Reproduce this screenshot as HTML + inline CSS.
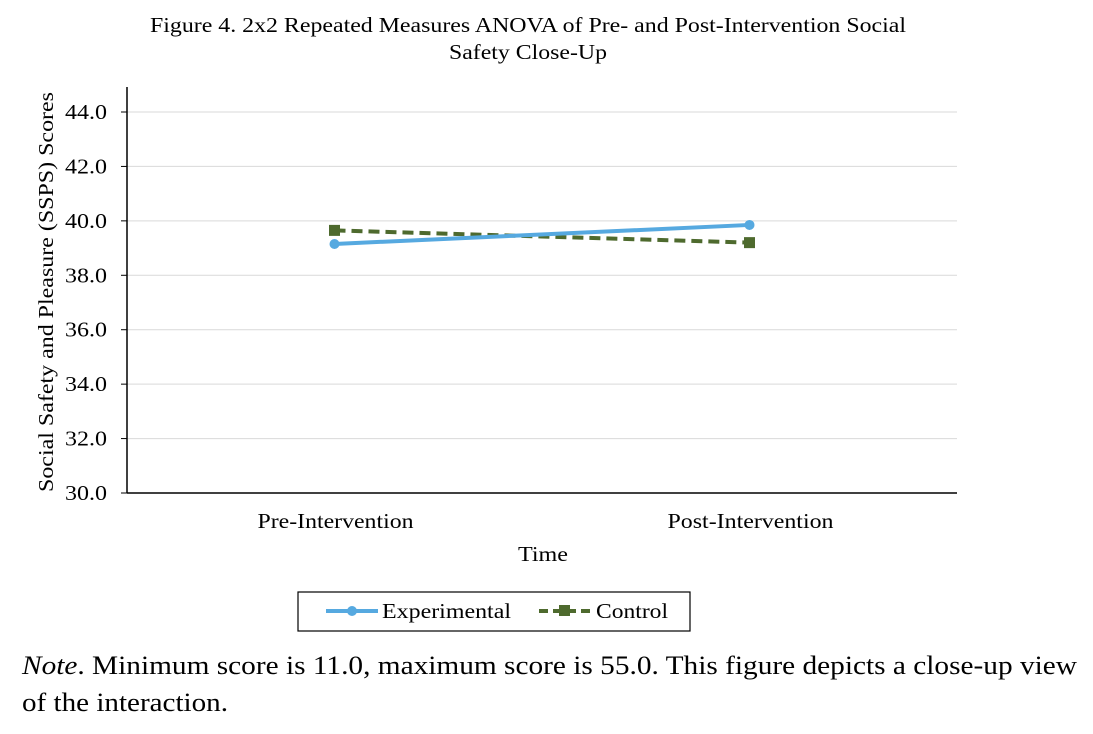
<!DOCTYPE html>
<html><head><meta charset="utf-8"><style>
body{margin:0;background:#fff;width:1093px;height:734px;overflow:hidden;font-family:"Liberation Serif",serif;}
svg{position:absolute;left:0;top:0}
</style></head><body>
<svg width="1093" height="734">
<text x="150" y="32" font-size="21" textLength="756" lengthAdjust="spacingAndGlyphs">Figure 4. 2x2 Repeated Measures ANOVA of Pre- and Post-Intervention Social</text>
<text x="449" y="59" font-size="21" textLength="158" lengthAdjust="spacingAndGlyphs">Safety Close-Up</text>
<g id="grid"></g><g id="yt"></g><g id="xt"></g><g id="series"></g>
<text transform="translate(53,292) rotate(-90)" text-anchor="middle" font-size="21" textLength="400" lengthAdjust="spacingAndGlyphs">Social Safety and Pleasure (SSPS) Scores</text>
<text x="518" y="561" font-size="21" textLength="50" lengthAdjust="spacingAndGlyphs">Time</text>
<g>
<rect x="298" y="592" width="392" height="39" fill="#fff" stroke="#000" stroke-width="1.2"/>
<line x1="326" y1="611" x2="378" y2="611" stroke="#56A9E0" stroke-width="4"/><circle cx="352" cy="611" r="5" fill="#56A9E0"/>
<text x="382" y="618" font-size="21" textLength="129" lengthAdjust="spacingAndGlyphs">Experimental</text>
<line x1="539" y1="611" x2="591" y2="611" stroke="#4E6A2E" stroke-width="4" stroke-dasharray="9,5"/><rect x="559" y="605" width="11" height="11" fill="#4E6A2E"/>
<text x="596" y="618" font-size="21" textLength="72" lengthAdjust="spacingAndGlyphs">Control</text>
</g>
<g>
<text x="22" y="674" font-size="26" textLength="1055" lengthAdjust="spacingAndGlyphs"><tspan font-style="italic">Note</tspan>. Minimum score is 11.0, maximum score is 55.0. This figure depicts a close-up view</text>
<text x="22" y="711" font-size="26" textLength="206" lengthAdjust="spacingAndGlyphs">of the interaction.</text>
</g>
</svg>
<script>
const categories=["Pre-Intervention","Post-Intervention"];
const experimental=[39.15,39.85];
const control=[39.65,39.2];
const yTicks=[30,32,34,36,38,40,42,44];
const NS="http://www.w3.org/2000/svg";
const x0=127,x1=957,yB=493,yT=112;
function y(v){return yB-(v-30)/(44-30)*(yB-yT);}
function x(i){return x0+(i+0.5)*(x1-x0)/categories.length;}
function mk(t,a,p){const e=document.createElementNS(NS,t);for(const k in a)e.setAttribute(k,a[k]);p.appendChild(e);return e;}
const g=document.getElementById('grid'),yt=document.getElementById('yt'),xt=document.getElementById('xt'),s=document.getElementById('series');
yTicks.forEach(v=>{
 if(v>30){const l=mk('line',{x1:x0,x2:x1,y1:y(v),y2:y(v),stroke:'#d9d9d9','stroke-width':1},g);
 
 }
 mk('line',{x1:x0-6,x2:x0,y1:y(v),y2:y(v),stroke:'#000'},yt);
 const t=mk('text',{x:x0-20,y:y(v)+7,'text-anchor':'end','font-size':21,textLength:42,lengthAdjust:'spacingAndGlyphs'},yt);t.textContent=v.toFixed(1);
 
 
});
mk('line',{x1:x0,x2:x0,y1:87,y2:yB,stroke:'#000','stroke-width':1.5},g);
mk('line',{x1:x0,x2:x1,y1:yB,y2:yB,stroke:'#000','stroke-width':1.5},g);
const xw=[156,166];
categories.forEach((c,i)=>{const t=mk('text',{x:x(i)-xw[i]/2+1,y:528,'font-size':21,textLength:xw[i],lengthAdjust:'spacingAndGlyphs'},xt);t.textContent=c;
 
 });
function line(d,col,dash,mark,name){
 const pts=d.map((v,i)=>x(i)+','+y(v)).join(' ');
 const p=mk('polyline',{points:pts,fill:'none',stroke:col,'stroke-width':4},s);
 if(dash)p.setAttribute('stroke-dasharray',dash);
 
 
 d.forEach((v,i)=>{let m;
  if(mark==='c')m=mk('circle',{cx:x(i),cy:y(v),r:5,fill:col},s);
  else m=mk('rect',{x:x(i)-5.5,y:y(v)-5.5,width:11,height:11,fill:col},s);
  
  });
}
line(control,'#4E6A2E','11,6','s','control');
line(experimental,'#56A9E0',null,'c','experimental');
</script>
</body></html>
